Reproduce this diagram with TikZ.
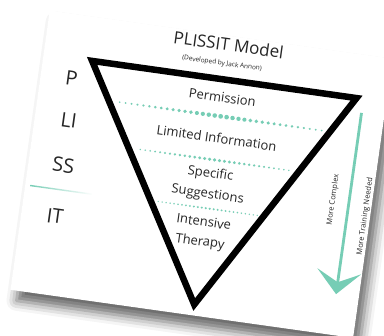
\documentclass[tikz,border=0pt]{standalone}
\usepackage{fontspec}
\setmainfont{Open Sans}
\usetikzlibrary{arrows.meta,shadows.blur}
\definecolor{plmint}{RGB}{118,205,181}
\definecolor{plgray}{RGB}{38,38,38}

\begin{document}
\begin{tikzpicture}[x=1pt,y=-1pt,line cap=round,line join=round,
	level text/.style={text=plgray,inner sep=0pt,font=\fontsize{13}{15}\selectfont},
	side text/.style={text=plgray,inner sep=0pt,font=\fontsize{20}{24}\selectfont},
	note text/.style={text=plgray,inner sep=0pt,rotate=90,font=\fontsize{7.5}{8}\selectfont}]
	\useasboundingbox (0,0) rectangle (384,336);
	\begin{scope}[rotate around={-8:(200,170)},transform shape]
		\fill [white,blur shadow={shadow xshift=6pt,shadow yshift=-11pt,shadow blur radius=10pt,shadow opacity=60}] (29,33) rectangle (375,315);
		\draw [line width=6.5pt,line join=miter] (78,77)--(345,77)--(213,304)--cycle;
		% dotted dividers
		\foreach \i in {0,...,34}{
			\pgfmathsetmacro{\xx}{111+6*\i}
			\pgfmathsetmacro{\rr}{2.4-1.5*abs(\xx-214.5)/103.5}
			\fill [plmint] (\xx,114) circle (\rr pt);
		}
		\foreach \i in {0,...,30}{
			\pgfmathsetmacro{\xx}{138+5*\i}
			\pgfmathsetmacro{\rr}{1.8-1.0*abs(\xx-213)/75}
			\fill [plmint] (\xx,158) circle (\rr pt);
		}
		\foreach \i in {0,...,25}{
			\pgfmathsetmacro{\xx}{163+4*\i}
			\pgfmathsetmacro{\rr}{1.2-0.5*abs(\xx-213)/50}
			\fill [plmint] (\xx,207) circle (\rr pt);
		}
		\shade [left color=plmint,right color=white] (34,208.3) rectangle (97,209.7);
		\coordinate (arrowtop) at (352,91);
		\coordinate (arrowtip) at (352,274);
		\draw [plmint,line width=2.8pt,line cap=butt,-{Stealth[length=23pt,width=44pt,inset=11pt]}] (arrowtop)--(arrowtip);
		\node [text=plgray,inner sep=0pt,font=\fontsize{17}{18}\selectfont] (title) at (211,42) {PLISSIT Model};
		\node [text=plgray,inner sep=0pt,font=\fontsize{6.5}{7}\selectfont] (subtitle) at (207,61.5) {(Developed by Jack Annon)};
		\node [level text] (perm) at (212,95) {Permission};
		\node [level text] (liminfo) at (212,136) {Limited Information};
		\node [level text] (spec) at (211,172.5) {Specific};
		\node [level text] (sugg) at (211,193.5) {Suggestions};
		\node [level text] (inten) at (211,220.5) {Intensive};
		\node [level text] (thera) at (210,241.5) {Therapy};
		\node [side text] (lblP) at (60,97) {P};
		\node [side text] (lblLI) at (63,139) {LI};
		\node [side text] (lblSS) at (64,184) {SS};
		\node [side text] (lblIT) at (63,236) {IT};
		\node [note text] (complex) at (336,181) {More Complex};
		\node [note text] (training) at (370,193) {More Training Needed};
	\end{scope}
\end{tikzpicture}
\end{document}
